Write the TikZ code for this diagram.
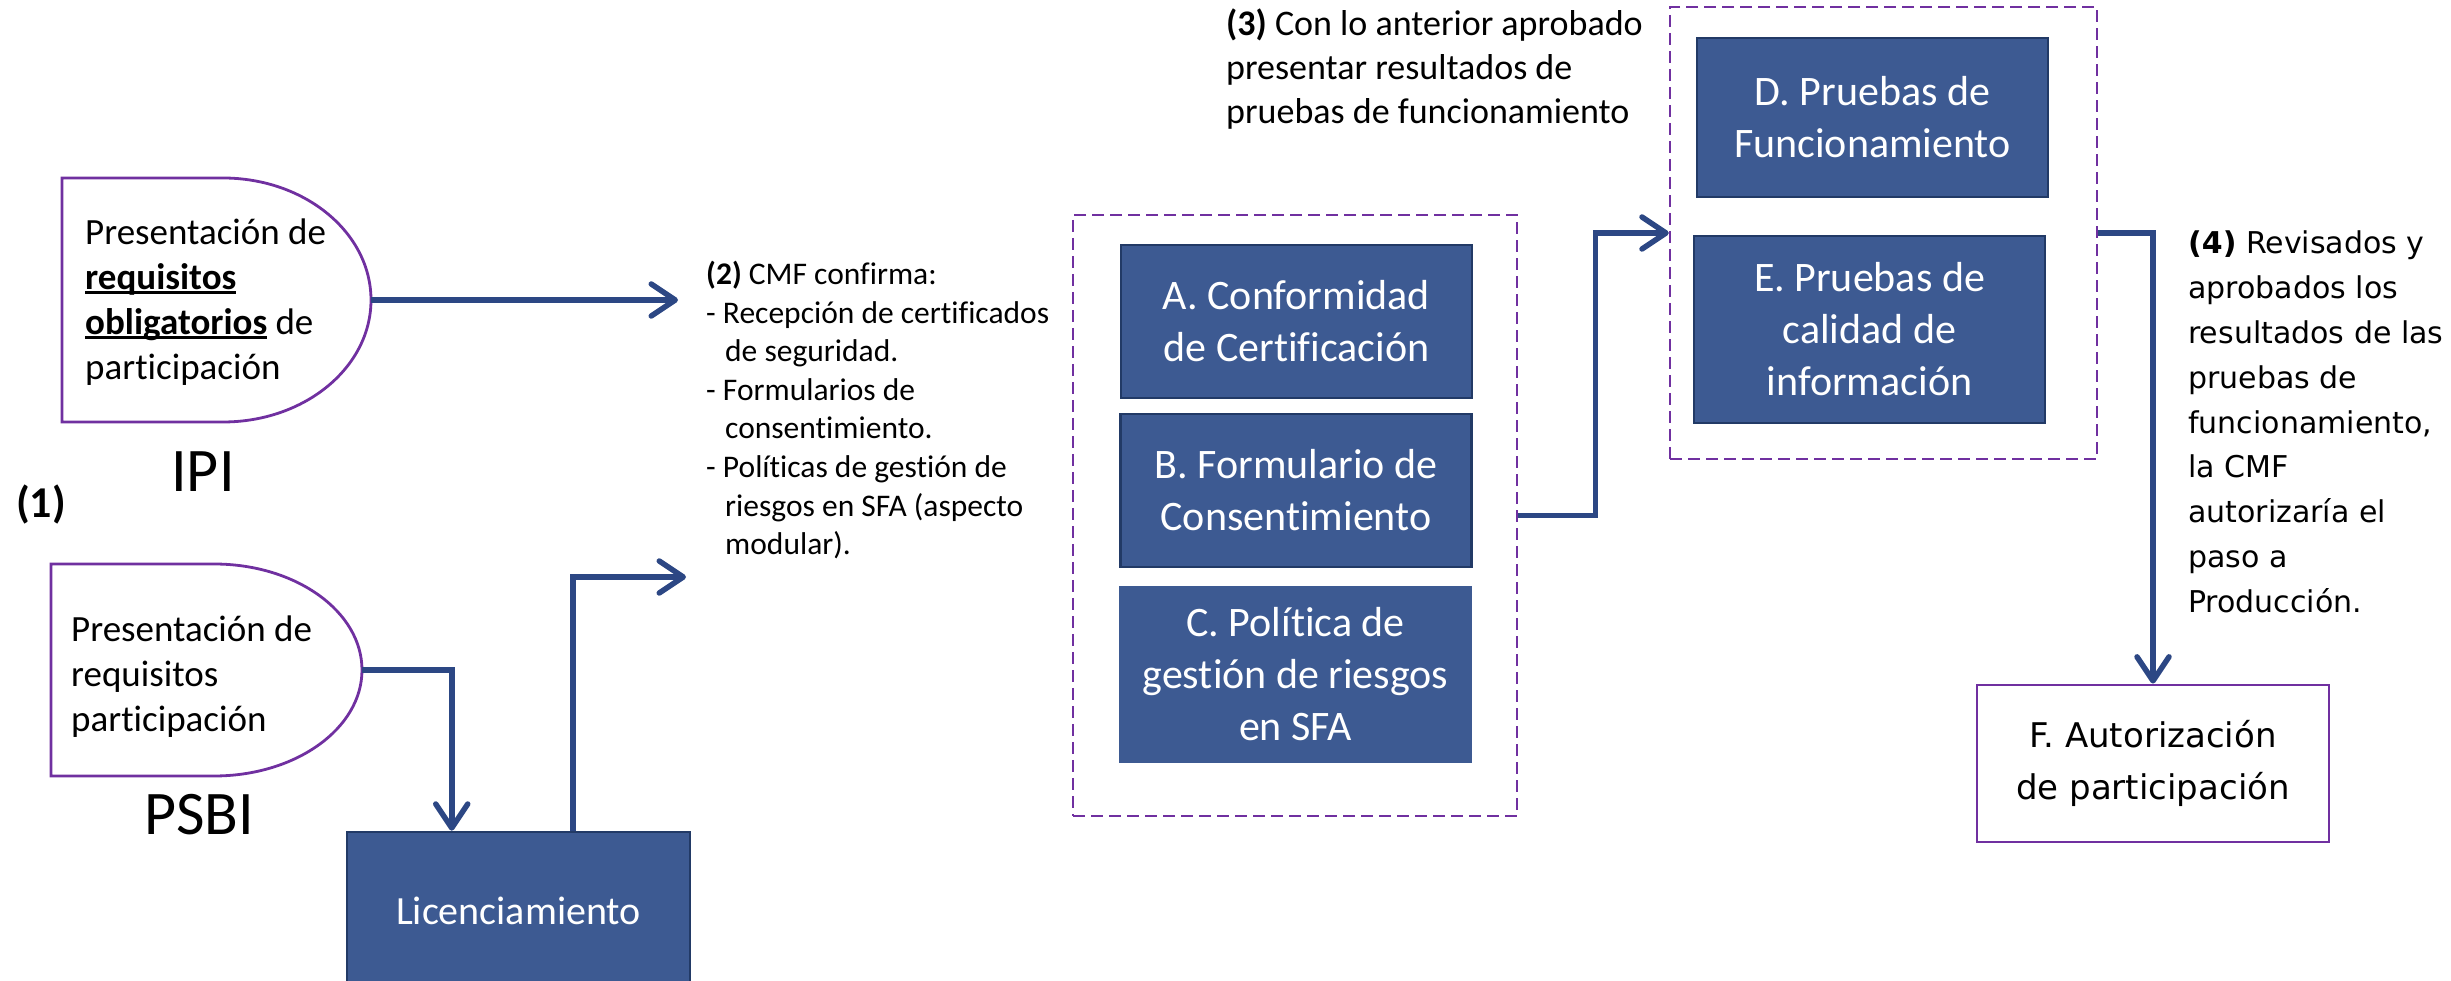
\documentclass[tikz,border=0pt]{standalone}
\usepackage{fontspec}
\setmainfont{Carlito}[Ligatures=NoCommon]
\newfontfamily\verdfont{DejaVu Sans}
\usetikzlibrary{positioning,arrows.meta}

\definecolor{boxblue}{HTML}{3D5A92}
\definecolor{boxedge}{HTML}{223A66}
\definecolor{flowblue}{HTML}{2C4784}
\definecolor{lila}{HTML}{7030A0}

\newcommand\ulbf[1]{\setbox0\hbox{\bfseries #1}\rlap{\rule[-4pt]{\wd0}{2.4pt}}\box0\relax}

\begin{document}
\begin{tikzpicture}[x=1pt,y=1pt,
  bluebox/.style={draw=boxedge,line width=2.5pt,fill=boxblue,text=white,align=center,
    font=\fontsize{42}{52}\selectfont,minimum width=351pt,inner sep=0pt},
  group/.style={draw=lila,line width=2.5pt,dash pattern=on 12pt off 6pt},
  delay/.style={draw=lila,line width=2.8pt},
  note/.style={anchor=west,align=left,inner sep=0pt},
  flow/.style={draw=flowblue,line width=5.5pt,-{Straight Barb[length=24pt,width=32pt,round]}}]
\useasboundingbox (0,0) rectangle (2451,980);

\def\xa{62};
\def\xb{51};
\def\rx{148};

\draw[delay] (\xa,802) -- (223,802) arc[start angle=90,end angle=-90,x radius=\rx pt,y radius=122pt] -- (\xa,558) -- cycle;
\draw[delay] (\xb,416) -- (214,416) arc[start angle=90,end angle=-90,x radius=\rx pt,y radius=106pt] -- (\xb,204) -- cycle;
\coordinate (ipiR) at (371,680);
\coordinate (psbiR) at (362,310);

\node[note,font=\fontsize{37}{45}\selectfont] (ipi) at (85,677.5) {Presentación de\\\ulbf{requisitos}\\\ulbf{obligatorios} de\\participación};
\node[note,font=\fontsize{37}{45}\selectfont] (psbi) at (71,303) {Presentación de\\requisitos\\participación};
\node[font=\fontsize{62}{70}\selectfont] (ipilbl) at (203,508) {IPI};
\node[font=\fontsize{62}{70}\selectfont] (psbilbl) at (199,165) {PSBI};
\node[font=\bfseries\fontsize{44}{50}\selectfont] (one) at (41,475) {(1)};

\node[bluebox,minimum width=343pt,minimum height=158pt,font=\fontsize{40}{48}\selectfont] (lic) at (518.5,69) {Licenciamiento};

\node[note,font=\fontsize{31.5}{38.6}\selectfont] (cmf) at (706,570) {\textbf{(2)} CMF confirma:\\- Recepción de certificados\\\hspace*{19pt}de seguridad.\\- Formularios de\\\hspace*{19pt}consentimiento.\\- Políticas de gestión de\\\hspace*{19pt}riesgos en SFA (aspecto\\\hspace*{19pt}modular).};

\node[group,minimum width=444pt,minimum height=601pt] (grp1) at (1295,464.5) {};
\node[bluebox,minimum height=153pt] (conf) at (1296.5,658.5) {A. Conformidad\\de Certificación};
\node[bluebox,minimum height=153pt] (form) at (1296,489.5) {B. Formulario de\\Consentimiento};
\node[bluebox,draw=boxblue,minimum height=175pt] (pol) at (1295.5,305.5) {C. Política de\\gestión de riesgos\\en SFA};

\node[note,font=\fontsize{36}{44}\selectfont] (prev) at (1226,911) {\textbf{(3)} Con lo anterior aprobado\\presentar resultados de\\pruebas de funcionamiento};

\node[group,minimum width=427pt,minimum height=452pt] (grp2) at (1883.5,747) {};
\node[bluebox,minimum height=159pt] (func) at (1872.5,862.5) {D. Pruebas de\\Funcionamiento};
\node[bluebox,minimum height=187pt] (cal) at (1869.5,650.5) {E. Pruebas de\\calidad de\\información};

\node[note,font=\verdfont\fontsize{30}{44.8}\selectfont] (rev) at (2188,558) {\textbf{(4)} Revisados y\\aprobados los\\resultados de las\\pruebas de\\funcionamiento,\\la CMF\\autorizaría el\\paso a\\Producción.};
\node[draw=lila,line width=2.8pt,minimum width=352pt,minimum height=157pt,align=center,font=\verdfont\fontsize{34}{52}\selectfont] (aut) at (2153,216.5) {F. Autorización\\de participación};

\coordinate (ipiend) at (678,680);
\coordinate (licend) at (686,403);
\draw[flow] (ipiR) -- (ipiend);
\draw[flow] (psbiR) -| ([xshift=106pt]lic.north west);
\draw[flow] ([xshift=227pt]lic.north west) |- (licend);
\draw[flow] (grp1.east) -- ++(77,0) |- (grp2.west);
\draw[flow] (grp2.east) -| (aut.north);

\end{tikzpicture}
\end{document}
